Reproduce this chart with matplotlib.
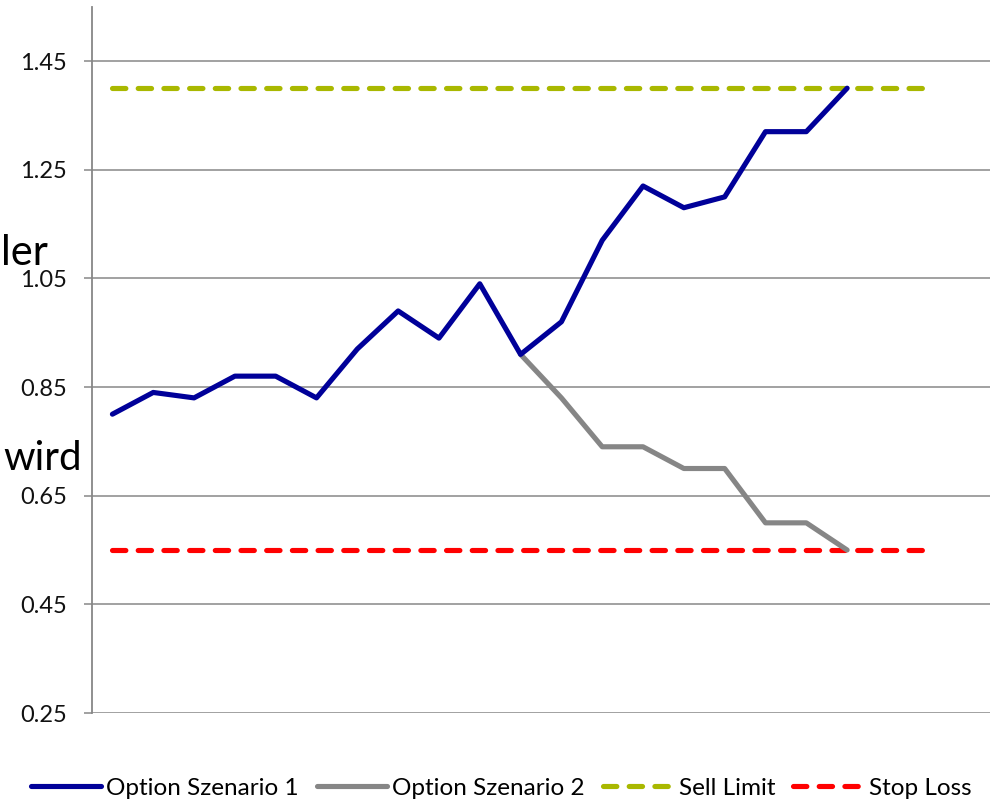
import matplotlib
matplotlib.use("Agg")
import matplotlib.pyplot as plt
import numpy as np

plt.rcParams['font.family'] = ['Lato', 'DejaVu Sans']

# Data
periods = list(range(22))
scenario1 = [0.80, 0.84, 0.83, 0.87, 0.87, 0.83, 0.92, 0.99, 0.94, 1.04,
             0.91, 0.97, 1.12, 1.22, 1.18, 1.20, 1.32, 1.32, 1.40]
scenario2 = [None, None, None, None, None, None, None, None, None, None,
             0.91, 0.83, 0.74, 0.74, 0.70, 0.70, 0.60, 0.60, 0.55]
sell_limit = [1.40] * 21
stop_loss = [0.55] * 21
yticks = [0.25, 0.45, 0.65, 0.85, 1.05, 1.25, 1.45]

fig = plt.figure(figsize=(9.96, 8.0), dpi=100)
ax = fig.add_axes([92/996, 1 - 713/800, (990-92)/996, (713-6.7)/800])

grid_c = '#878787'
for yv in yticks:
    ax.axhline(yv, color=grid_c, lw=1.1, zorder=1)

lw = 3.7
s2 = np.array([np.nan if v is None else v for v in scenario2], dtype=float)
ax.plot(periods[:len(scenario1)], scenario1, color='#000099', lw=lw,
        solid_capstyle='round', solid_joinstyle='round', label='Option Szenario 1', zorder=4)
ax.plot(periods[:len(s2)], s2, color='#868686', lw=lw,
        solid_capstyle='round', solid_joinstyle='round', label='Option Szenario 2', zorder=3)
ax.plot(periods[:len(sell_limit)], sell_limit, color='#A9B800', lw=lw, ls=(0, (2.6, 2.4)),
        dash_capstyle='round', label='Sell Limit', zorder=2)
ax.plot(periods[:len(stop_loss)], stop_loss, color='#FF0000', lw=lw, ls=(0, (2.6, 2.4)),
        dash_capstyle='round', label='Stop Loss', zorder=2)

ax.set_xlim(-0.5, len(periods) - 0.5)
ax.set_ylim(0.25, 1.55)
ax.set_yticks(yticks)
ax.set_yticklabels([f"{v:.2f}" for v in yticks])
ax.set_xticks([])
for s in ['top', 'right', 'bottom']:
    ax.spines[s].set_visible(False)
ax.spines['left'].set_color(grid_c)
ax.spines['left'].set_linewidth(1.3)
ax.tick_params(axis='y', length=6, width=1.1, color=grid_c, labelsize=17, pad=12,
               labelcolor='#111111')

leg = fig.legend(loc='center', bbox_to_anchor=(0.503, 1 - 788/800), ncol=4, frameon=False,
                 fontsize=17.5, handlelength=2.9, handletextpad=0.2, columnspacing=0.75)

fig.text(48/996, 1 - 265/800, 'ler', fontsize=30, ha='right', va='baseline', color='black')
fig.text(3/996, 1 - 470/800, 'wird', fontsize=29, ha='left', va='baseline', color='black')

fig.savefig('out.png', dpi=100)
